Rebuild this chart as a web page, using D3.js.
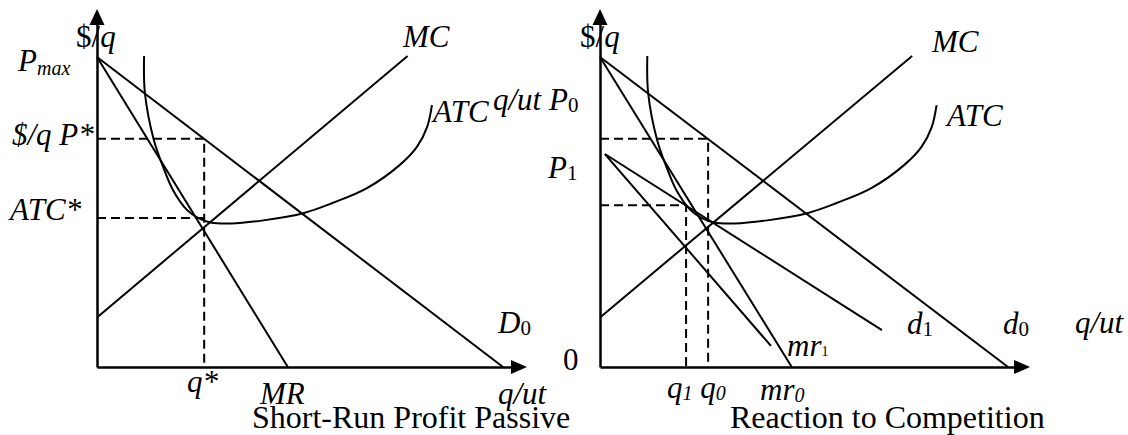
<!DOCTYPE html>
<html>
<head>
<meta charset="utf-8">
<script src="https://cdn.jsdelivr.net/npm/d3@7"></script>
<style>
  html, body { margin: 0; padding: 0; background: #fff; }
  svg { display: block; }
  text { font-family: "Liberation Serif", "Times New Roman", serif; fill: #000; }
</style>
</head>
<body>
<svg id="chart" width="1128" height="435"></svg>
<script>
// ---------- data (abstract units: quantity 0..100, $/q 0..100) ----------
const demand0 = [[0, 100], [100, 0]];          // D0 / d0
const marginalRevenue0 = [[0, 100], [47, 0]];  // MR / mr0
const marginalCost = [[0, 16], [76.5, 100.3]]; // MC
const demand1 = [[1.2, 68.7], [69.1, 11.9]];   // d1
const marginalRevenue1 = [[1.2, 68.7], [41.9, 6.8]]; // mr1
const atcQ = [11.6, 11.8, 14.0, 16.3, 18.7, 22.2, 25, 28, 33, 41, 51, 58, 66.5, 74.6, 78.8, 81.3, 82.5];
const atcP = [100.3, 88.4, 73.2, 64.5, 57.1, 50.6, 48, 46.6, 46.3, 47.3, 49.7, 52.9, 57.7, 65.2, 71.0, 77.4, 84.5];
const leftGuides = { qStar: 26.4, pStar: 73.6, atcStar: 48.1 };
const rightGuides = { q0: 26.5, p0: 73.6, q1: 21.1, p1: 52.2 };
const panelTitles = ["Short-Run Profit Passive", "Reaction to Competition"];

// ---------- setup ----------
const svg = d3.select("#chart");
const yScale = d3.scaleLinear().domain([0, 100]).range([367, 57]);
const xLeft = d3.scaleLinear().domain([0, 100]).range([97, 503]);
const xRight = d3.scaleLinear().domain([0, 100]).range([600, 1008]);
const yAxisTop = 115.5, xAxisEnd = { left: 105.9, right: 105.4 };

const atcData = atcQ.map((q, i) => [q, atcP[i]]);

function drawPanel(x, xEnd) {
  const g = svg.append("g");
  // axes through d3.axis with no ticks
  const yExt = yScale.copy().domain([0, yAxisTop - 4]).range([yScale(0), yScale(yAxisTop - 4)]);
  const xExt = x.copy().domain([0, xEnd - 3]).range([x(0), x(xEnd - 3)]);
  g.append("g").attr("transform", `translate(${x(0)},0)`)
    .call(d3.axisLeft(yExt).tickValues([]).tickSizeOuter(0))
    .call(s => s.select(".domain").attr("stroke", "#000").attr("stroke-width", 2.5));
  g.append("g").attr("transform", `translate(0,${yScale(0)})`)
    .call(d3.axisBottom(xExt).tickValues([]).tickSizeOuter(0))
    .call(s => s.select(".domain").attr("stroke", "#000").attr("stroke-width", 2.5));
  // arrowheads
  const tipY = yScale(yAxisTop), x0 = x(0);
  g.append("path").attr("d", `M${x0},${tipY} L${x0 - 7.5},${tipY + 16} L${x0 + 7.5},${tipY + 16} Z`).attr("fill", "#000");
  const tipX = x(xEnd), y0 = yScale(0);
  g.append("path").attr("d", `M${tipX},${y0} L${tipX - 16},${y0 - 7} L${tipX - 16},${y0 + 7} Z`).attr("fill", "#000");
  return g;
}

function lineOn(g, x, data, opts = {}) {
  const gen = d3.line().x(d => x(d[0])).y(d => yScale(d[1]));
  if (opts.curve) gen.curve(opts.curve);
  g.append("path").attr("d", gen(data)).attr("fill", "none")
    .attr("stroke", "#000").attr("stroke-width", opts.w || 2)
    .attr("stroke-dasharray", opts.dash || null);
}

function label(parts, px, py, size = 31) {
  const t = svg.append("text").attr("x", px).attr("y", py).attr("font-size", size);
  parts.forEach(p => {
    const ts = t.append("tspan").text(p.t);
    if (p.i) ts.attr("font-style", "italic");
    if (p.s) ts.attr("font-size", p.s);
    if (p.dy) ts.attr("dy", p.dy);
  });
  return t;
}

// ---------- left panel ----------
const L = drawPanel(xLeft, xAxisEnd.left);
lineOn(L, xLeft, demand0);
lineOn(L, xLeft, marginalRevenue0);
lineOn(L, xLeft, marginalCost);
lineOn(L, xLeft, atcData, { curve: d3.curveCatmullRom.alpha(0.5) });
lineOn(L, xLeft, [[0, leftGuides.pStar], [leftGuides.qStar, leftGuides.pStar], [leftGuides.qStar, 0]], { dash: "9,5" });
lineOn(L, xLeft, [[0, leftGuides.atcStar], [leftGuides.qStar, leftGuides.atcStar]], { dash: "9,5" });

// ---------- right panel ----------
const R = drawPanel(xRight, xAxisEnd.right);
lineOn(R, xRight, demand0);
lineOn(R, xRight, marginalRevenue0);
lineOn(R, xRight, marginalCost);
lineOn(R, xRight, demand1);
lineOn(R, xRight, marginalRevenue1);
lineOn(R, xRight, atcData, { curve: d3.curveCatmullRom.alpha(0.5) });
lineOn(R, xRight, [[0, rightGuides.p0], [rightGuides.q0, rightGuides.p0], [rightGuides.q0, 0]], { dash: "9,5" });
lineOn(R, xRight, [[0, rightGuides.p1], [rightGuides.q1, rightGuides.p1], [rightGuides.q1, 0]], { dash: "9,5" });

// ---------- labels: left ----------
label([{ t: "$/" }, { t: "q", i: 1 }], 76, 47);
label([{ t: "P", i: 1 }, { t: "max", i: 1, s: 20, dy: 4 }], 18, 71);
label([{ t: "$/q P*", i: 1 }], 12, 145);
label([{ t: "ATC*", i: 1 }], 10, 220);
label([{ t: "MC", i: 1 }], 403, 47);
label([{ t: "ATC", i: 1 }], 433, 122);
label([{ t: "q/ut P", i: 1 }, { t: "0", s: 21, dy: 2 }], 493, 110);
label([{ t: "D", i: 1 }, { t: "0", s: 21, dy: 2 }], 498, 333);
label([{ t: "q*", i: 1 }], 187, 392);
label([{ t: "MR", i: 1 }], 260, 404);
label([{ t: "q/ut", i: 1 }], 498, 404);
label([{ t: panelTitles[0] }], 252, 428, 32);

// ---------- labels: right ----------
label([{ t: "$/" }, { t: "q", i: 1 }], 580, 47);
label([{ t: "P", i: 1 }, { t: "1", s: 21, dy: 2 }], 548, 178);
label([{ t: "0" }], 563, 370);
label([{ t: "MC", i: 1 }], 932, 52);
label([{ t: "ATC", i: 1 }], 947, 126);
label([{ t: "d", i: 1 }, { t: "1", s: 21, dy: 2 }], 907, 334);
label([{ t: "d", i: 1 }, { t: "0", s: 21, dy: 2 }], 1003, 334);
label([{ t: "q/ut", i: 1 }], 1075, 333);
label([{ t: "mr", i: 1 }, { t: "1", s: 14 }], 787, 356);
label([{ t: "mr", i: 1 }, { t: "0", i: 1, s: 20, dy: 2 }], 760, 400);
label([{ t: "q", i: 1 }, { t: "1", i: 1, s: 20, dy: 2 }, { t: " q", i: 1, s: 31, dy: -2 }, { t: "0", i: 1, s: 20, dy: 2 }], 667, 398);
label([{ t: panelTitles[1] }], 730, 428, 32);
</script>
</body>
</html>
